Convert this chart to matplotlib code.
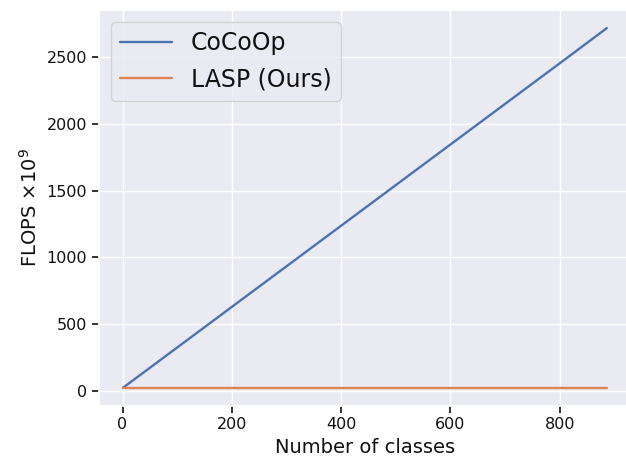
import matplotlib
matplotlib.use("Agg")
import matplotlib.pyplot as plt
import seaborn as sns

num_classes = [1, 100, 200, 300, 400, 500, 600, 700, 800, 886]
cocoop_flops = [25, 326, 630, 934, 1238, 1542, 1846, 2150, 2454, 2717]
lasp_flops = [25, 25, 25, 25, 25, 25, 25, 25, 25, 25]

sns.set_theme(style="darkgrid")
plt.rcParams["font.family"] = ["DejaVu Sans"]
plt.rcParams["text.color"] = "#111111"
plt.rcParams["axes.labelcolor"] = "#111111"
plt.rcParams["xtick.color"] = "#111111"
plt.rcParams["ytick.color"] = "#111111"

fig = plt.figure(figsize=(6.26, 4.61), dpi=100)
ax = fig.add_axes([0.158, 0.12, 0.85, 0.858])
ax.plot(num_classes, cocoop_flops, label="CoCoOp", color="#4c72b0", linewidth=1.7)
ax.plot(num_classes, lasp_flops, label="LASP (Ours)", color="#dd8452", linewidth=1.7)

ax.set_xticks([0, 200, 400, 600, 800])
ax.set_yticks([0, 500, 1000, 1500, 2000, 2500])
ax.tick_params(axis="both", labelsize=11.5, length=5, width=1.2,
               bottom=True, left=True)
ax.set_xlabel("Number of classes", fontsize=14)
ax.set_ylabel(r"FLOPS $\times 10^9$", fontsize=14)
ax.legend(loc="upper left", fontsize=17, handlelength=2.2)

fig.savefig("out.png", dpi=100)
